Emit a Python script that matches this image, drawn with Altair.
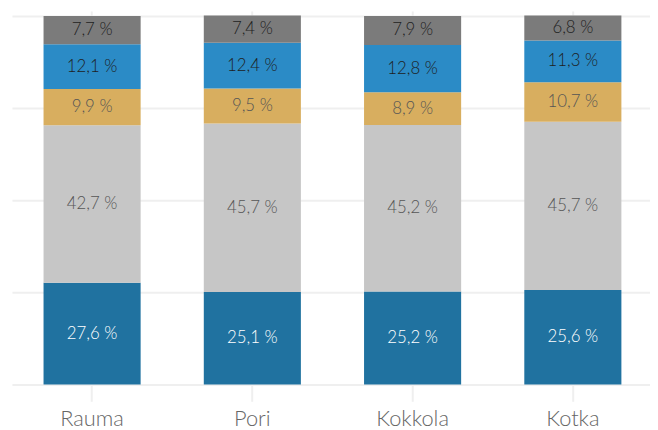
import altair as alt
import pandas as pd

categories = ["Rauma", "Pori", "Kokkola", "Kotka"]
series = ["Sarja 1", "Sarja 2", "Sarja 3", "Sarja 4", "Sarja 5"]  # bottom -> top
s1 = [27.6, 25.1, 25.2, 25.6]
s2 = [42.7, 45.7, 45.2, 45.7]
s3 = [9.9, 9.5, 8.9, 10.7]
s4 = [12.1, 12.4, 12.8, 11.3]
s5 = [7.7, 7.4, 7.9, 6.8]

bar_colors = ["#2072a0", "#c6c6c6", "#d8ae5f", "#2b8bc6", "#7b7b7b"]
text_colors = ["#ffffff", "#555555", "#555555", "#1e1e1e", "#1e1e1e"]

rows = []
for si, (name, vals) in enumerate(zip(series, [s1, s2, s3, s4, s5])):
    for c, v in zip(categories, vals):
        rows.append({"kaupunki": c, "sarja": name, "ord": si, "arvo": v})
df = pd.DataFrame(rows)

FONT = "Lato"
GRID = "#efefef"
x_scale = alt.Scale(range=[3, 650], paddingInner=0.394, paddingOuter=0.197)

x_enc = alt.X(
    "kaupunki:N",
    sort=categories,
    title=None,
    scale=x_scale,
    axis=alt.Axis(
        orient="bottom", domain=False, grid=False, tickSize=17, tickWidth=2,
        tickColor=GRID, labelAngle=0, labelFont=FONT, labelFontSize=22,
        labelFontWeight=300, labelColor="#666666", labelPadding=7,
    ),
)

y_scale = alt.Scale(domain=[0, 100], nice=False)


def y_axis():
    return alt.Axis(
        values=[0, 25, 50, 75, 100], labels=False, ticks=False, domain=False,
        grid=True, gridColor=GRID, gridWidth=2, title=None,
    )


base = alt.Chart(df)

bars = base.mark_bar(size=98).encode(
    x=x_enc,
    y=alt.Y("arvo:Q", stack="zero", scale=y_scale, title=None, axis=y_axis()),
    color=alt.Color("sarja:N", scale=alt.Scale(domain=series, range=bar_colors), legend=None),
    order=alt.Order("ord:Q", sort="ascending"),
)

labels = (
    base.transform_stack(
        stack="arvo", groupby=["kaupunki"], as_=["y0", "y1"],
        sort=[alt.SortField("ord", order="ascending")],
    )
    .transform_calculate(
        mid="(datum.y0 + datum.y1) / 2",
        txt="replace(format(datum.arvo, '.1f'), '.', ',') + ' %'",
    )
    .mark_text(font=FONT, fontSize=17, fontWeight=300, baseline="middle", align="center")
    .encode(
        x=alt.X("kaupunki:N", sort=categories, title=None, scale=x_scale,
                axis=alt.Axis(orient="top", domain=False, grid=False, labels=False,
                              tickSize=5, tickWidth=2, tickColor=GRID)),
        y=alt.Y("mid:Q", scale=y_scale, title=None, axis=y_axis()),
        text="txt:N",
        color=alt.Color("sarja:N", scale=alt.Scale(domain=series, range=text_colors), legend=None),
    )
)

chart = (
    alt.layer(bars, labels)
    .resolve_scale(color="independent")
    .resolve_axis(x="independent")
    .properties(width=641, height=372, padding={"left": 1, "top": 0, "right": 0, "bottom": 0})
    .configure_view(stroke=None)
)

chart.save("out.html", embed_options={"renderer": "svg", "actions": False})
